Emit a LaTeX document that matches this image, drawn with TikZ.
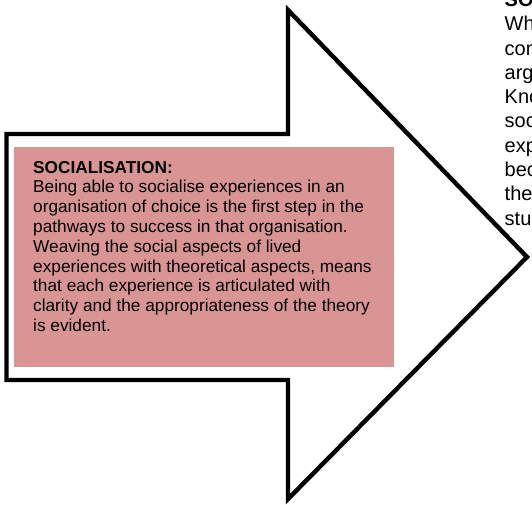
\documentclass[tikz,border=0pt]{standalone}
\usepackage{fontspec}
\setmainfont{Liberation Sans}
\definecolor{boxpink}{RGB}{217,149,148}
\begin{document}
\begin{tikzpicture}[x=1pt,y=-1pt,
  arrowline/.style={draw=black,line width=4.4pt,miter limit=20},
  pinkbox/.style={fill=boxpink,draw=none,inner sep=0pt,minimum width=380pt,minimum height=220pt},
  boxtext/.style={anchor=base west,inner sep=0pt,font=\fontsize{17.25}{19.8}\selectfont},
  sidetext/.style={anchor=base west,inner sep=0pt,font=\fontsize{20}{24.3}\selectfont}]
\useasboundingbox (0,0) rectangle (532,504);
\clip (0,0) rectangle (532,504);
\draw[arrowline] (6.5,134) -- (288,134) -- (288,10) -- (527,257) -- (288,499) -- (288,380) -- (6.5,380) -- cycle;
\node[pinkbox] (box) at (204,257) {};
\node[boxtext] (soctext) at (33,173) {\begin{tabular}[t]{@{}l@{}}\textbf{SOCIALISATION:}\\
Being able to socialise experiences in an\\
organisation of choice is the first step in the\\
pathways to success in that organisation.\\
Weaving the social aspects of lived\\
experiences with theoretical aspects, means\\
that each experience is articulated with\\
clarity and the appropriateness of the theory\\
is evident.\end{tabular}};
\node[sidetext] (side) at (504.5,6.4) {\begin{tabular}[t]{@{}l@{}}\textbf{SO}\\Wh\\con\\arg\\Kno\\soc\\exp\\bec\\the\\stu\end{tabular}};
\end{tikzpicture}
\end{document}
